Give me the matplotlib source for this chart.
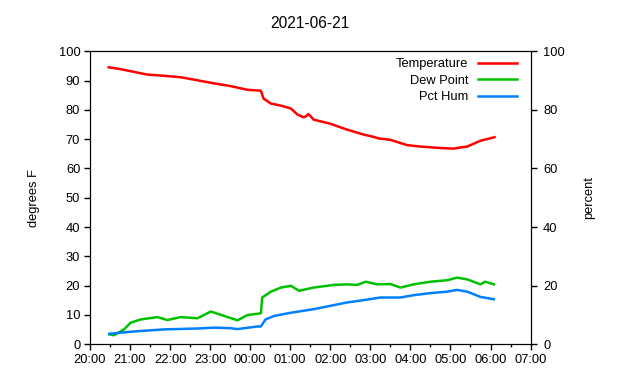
import pandas as pd
import matplotlib
matplotlib.use('Agg')
import matplotlib.pyplot as plt
import matplotlib.dates as mdates
from matplotlib.ticker import MultipleLocator

plt.rcParams['font.family'] = ['Liberation Sans', 'DejaVu Sans']
plt.rcParams['font.size'] = 9.3

title = '2021-06-21'

temp_t = ['20:28', '20:45', '21:00', '21:26', '21:45', '22:16', '22:40', '23:06', '23:30',
          '23:56', '00:16', '00:20', '00:31', '00:46', '01:01', '01:11', '01:20', '01:24',
          '01:27', '01:30', '01:35', '02:00', '02:25', '02:50', '03:05', '03:12', '03:30',
          '03:55', '04:15', '04:45', '05:05', '05:15', '05:25', '05:45', '06:06']
temp_v = [94.6, 94.0, 93.3, 92.1, 91.8, 91.2, 90.2, 89.1, 88.2,
          86.9, 86.6, 83.9, 82.2, 81.5, 80.5, 78.4, 77.5, 77.9,
          78.6, 78.0, 76.7, 75.3, 73.3, 71.6, 70.8, 70.3, 69.8,
          68.0, 67.5, 67.0, 66.8, 67.2, 67.5, 69.5, 70.7]

dew_t = ['20:29', '20:36', '20:51', '21:01', '21:16', '21:41', '21:56', '22:16', '22:41',
         '23:01', '23:21', '23:41', '23:56', '00:16', '00:18', '00:31', '00:46', '01:01',
         '01:13', '01:35', '02:05', '02:25', '02:40', '02:53', '03:10', '03:30', '03:45',
         '04:05', '04:30', '04:55', '05:10', '05:25', '05:45', '05:52', '06:05']
dew_v = [3.3, 3.0, 5.0, 7.3, 8.4, 9.2, 8.2, 9.2, 8.8,
         11.1, 9.6, 8.1, 9.9, 10.5, 15.9, 17.9, 19.3, 19.9,
         18.2, 19.3, 20.2, 20.4, 20.2, 21.3, 20.4, 20.5, 19.3,
         20.4, 21.3, 21.8, 22.7, 22.1, 20.4, 21.3, 20.4]

hum_t = ['20:29', '21:01', '21:51', '22:41', '23:06', '23:31', '23:41', '00:11', '00:16',
         '00:23', '00:36', '01:01', '01:35', '02:25', '02:50', '03:15', '03:45', '04:05',
         '04:30', '04:55', '05:10', '05:25', '05:45', '06:05']
hum_v = [3.5, 4.2, 5.0, 5.3, 5.6, 5.4, 5.1, 6.0, 6.0,
         8.4, 9.6, 10.7, 11.9, 14.2, 15.0, 15.9, 15.9, 16.7,
         17.4, 17.9, 18.5, 17.9, 16.1, 15.3]


def to_dt(times):
    out = []
    for s in times:
        day = '2021-06-20' if int(s[:2]) >= 12 else '2021-06-21'
        out.append(pd.Timestamp(day + ' ' + s))
    return out


fig = plt.figure(figsize=(6.4, 3.8), dpi=100)
ax = fig.add_axes([0.1406, 0.0947, 0.829 - 0.1406, 0.8645 - 0.0947])
ax2 = ax.twinx()

l1, = ax.plot(to_dt(temp_t), temp_v, color='#ff0000', lw=1.8, label='Temperature')
l2, = ax.plot(to_dt(dew_t), dew_v, color='#00c000', lw=1.8, label='Dew Point')
l3, = ax2.plot(to_dt(hum_t), hum_v, color='#0080ff', lw=1.8, label='Pct Hum')

ax.set_xlim(pd.Timestamp('2021-06-20 20:00'), pd.Timestamp('2021-06-21 07:00'))
ax.set_ylim(0, 100)
ax2.set_ylim(0, 100)
ax.yaxis.set_major_locator(MultipleLocator(10))
ax2.yaxis.set_major_locator(MultipleLocator(20))
ax.xaxis.set_major_locator(mdates.HourLocator())
ax.xaxis.set_minor_locator(mdates.MinuteLocator(byminute=[30]))
ax.xaxis.set_major_formatter(mdates.DateFormatter('%H:%M'))

ax.tick_params(axis='both', which='major', direction='out', length=4, width=1, pad=3)
ax.tick_params(axis='x', which='minor', direction='out', length=2, width=1)
ax2.tick_params(axis='y', direction='out', length=4, width=1, pad=5)

ax.set_ylabel('degrees F', labelpad=13)
ax2.set_ylabel('percent', labelpad=13)
ax.set_title(title, pad=17)

ax.legend(handles=[l1, l2, l3], loc='upper right', frameon=False, markerfirst=False,
          handlelength=3.0, labelspacing=0.35, borderaxespad=0.3, handletextpad=0.8,
          bbox_to_anchor=(0.99, 1.008))
leg = ax.get_legend()
for t in leg.get_texts():
    t.set_ha('right')

fig.savefig('out.png', dpi=100)
